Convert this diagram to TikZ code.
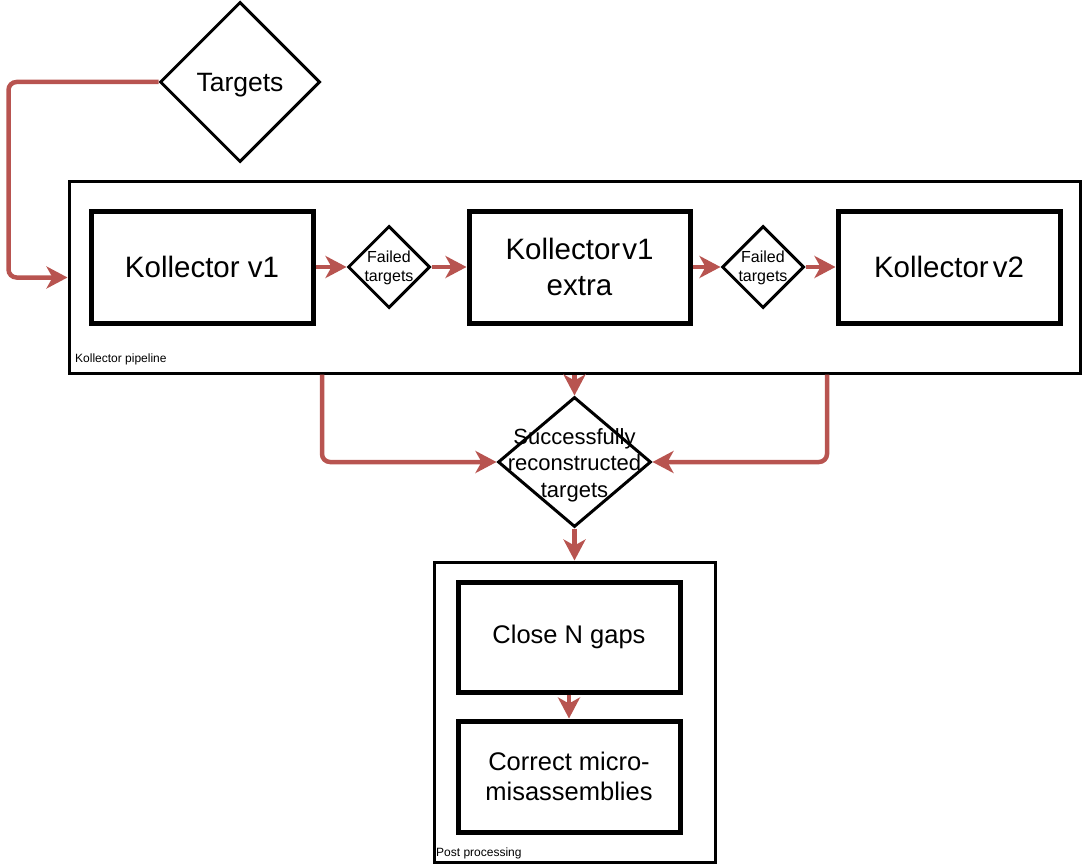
\documentclass[tikz,border=0pt]{standalone}
\usepackage{fontspec}
\setmainfont{Liberation Sans}
\usetikzlibrary{shapes.geometric,arrows.meta}
\definecolor{arrred}{HTML}{B85450}
\tikzset{
  container/.style={draw=black,line width=3pt,minimum width=#1,inner sep=0pt},
  procbox/.style={draw=black,line width=5pt,inner sep=0pt,align=center,font=\fontsize{25.5}{30}\selectfont},
  decision/.style={diamond,draw=black,line width=3pt,inner sep=0pt,aspect=1},
  arr/.style={draw=arrred,line width=4.5pt,rounded corners=8pt,-{Stealth[length=21pt,width=22pt,inset=6pt]}},
  grouplabel/.style={font=\fontsize{12}{14}\selectfont,inner sep=0pt,anchor=base west}
}
\begin{document}
\begin{tikzpicture}[x=1pt,y=-1pt]
\useasboundingbox (0,0) rectangle (1082,864);
% containers
\node[container=1011pt,minimum height=191pt] (pipe) at (574.5,277.5) {};
\node[grouplabel] (pipelbl) at (75,362) {Kollector pipeline};
\node[container=281pt,minimum height=300pt] (post) at (574.5,712) {};
\node[grouplabel] (postlbl) at (436,856) {Post processing};
% decisions
\node[decision,minimum width=160pt,minimum height=160pt,
  label={[font=\fontsize{26.5}{30}\selectfont,yshift=-3pt]center:Targets}] (targets) at (240,82) {};
\node[decision,minimum width=82pt,minimum height=82pt,
  label={[font=\fontsize{16}{19}\selectfont,align=center,yshift=-1pt]center:Failed\\targets}] (f1) at (389,267) {};
\node[decision,minimum width=82pt,minimum height=82pt,
  label={[font=\fontsize{16}{19}\selectfont,align=center,yshift=-1pt]center:Failed\\targets}] (f2) at (763,267) {};
\node[decision,minimum width=153pt,minimum height=130pt,
  label={[font=\fontsize{22}{26.5}\selectfont,align=center,yshift=-3pt]center:Successfully\\reconstructed\\targets}] (succ) at (574.5,462) {};
% process boxes
\node[procbox,minimum width=222pt,minimum height=112pt,font=\fontsize{29.5}{36}\selectfont] (k1) at (202,267) {Kollector v1};
\node[procbox,minimum width=221pt,minimum height=112pt,font=\fontsize{29.5}{36}\selectfont] (k1e) at (579.5,267) {Kollector\hspace{2pt}v1\\extra};
\node[procbox,minimum width=222pt,minimum height=112pt,font=\fontsize{29.5}{36}\selectfont] (k2) at (949,267) {Kollector\hspace{4pt}v2};
\node[procbox,minimum width=222pt,minimum height=110pt] (close) at (569,637) {Close N gaps};
\node[procbox,minimum width=222pt,minimum height=111pt] (corr) at (569,776.5) {Correct micro-\\misassemblies};
% connectors
\draw[arr] (targets.west) -| ([xshift=-59pt]pipe.west) -- (pipe.west);
\draw[arr] (k1.east) -- (f1.west);
\draw[arr] (f1.east) -- (k1e.west);
\draw[arr] (k1e.east) -- (f2.west);
\draw[arr] (f2.east) -- (k2.west);
\draw[arr] ([xshift=-252.5pt]pipe.south) |- (succ.west);
\draw[arr] ([xshift=252.5pt]pipe.south) |- (succ.east);
\draw[arr] (pipe.south) -- (succ.north);
\draw[arr] (succ.south) -- (post.north);
\draw[arr] (close.south) -- (corr.north);
\end{tikzpicture}
\end{document}
